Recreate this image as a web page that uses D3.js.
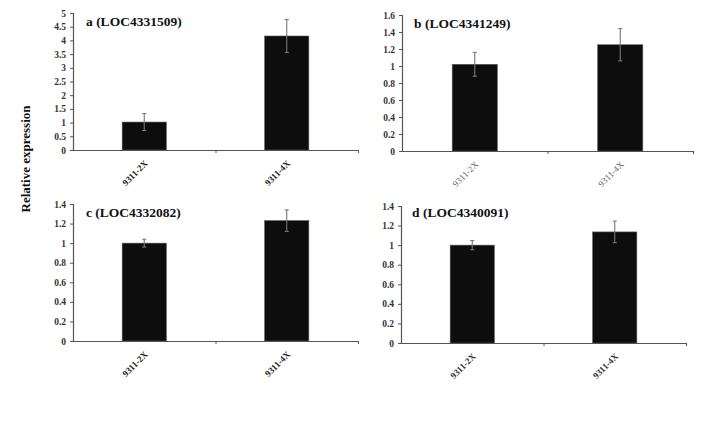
<!DOCTYPE html>
<html>
<head>
<meta charset="utf-8">
<script src="https://cdn.jsdelivr.net/npm/d3@7/dist/d3.min.js"></script>
<style>
  html, body { margin: 0; padding: 0; background: #fff; }
  svg { display: block; }
</style>
</head>
<body>
<svg id="chart" width="720" height="428"></svg>
<script>
// ---- Data ----
const categories = ["9311-2X", "9311-4X"];
const panelTitles = ["a (LOC4331509)", "b (LOC4341249)", "c (LOC4332082)", "d (LOC4340091)"];
const valuesA = [1.02, 4.16];
const errorsA = [0.31, 0.60];
const valuesB = [1.02, 1.25];
const errorsB = [0.14, 0.19];
const valuesC = [1.00, 1.23];
const errorsC = [0.04, 0.11];
const valuesD = [1.00, 1.135];
const errorsD = [0.047, 0.11];
const yMaxes = [5, 1.6, 1.4, 1.4];
const yTickSteps = [0.5, 0.2, 0.2, 0.2];
const yLabel = "Relative expression";

// ---- Layout ----
const frames = [
  { x0: 73, x1: 358, yTop: 13, yBot: 150, bold: true, tickColor: "#222" },
  { x0: 402, x1: 693, yTop: 15, yBot: 151, bold: false, tickColor: "#666" },
  { x0: 73, x1: 358, yTop: 204, yBot: 341, bold: true, tickColor: "#222" },
  { x0: 401, x1: 686, yTop: 206, yBot: 343, bold: true, tickColor: "#333" }
];
const titlePos = [[86, 26], [414, 28], [86, 217], [412, 217]];
const allValues = [valuesA, valuesB, valuesC, valuesD];
const allErrors = [errorsA, errorsB, errorsC, errorsD];

const svg = d3.select("#chart");
const serif = "'Liberation Serif', 'DejaVu Serif', serif";

frames.forEach((f, i) => {
  const g = svg.append("g");
  const x = d3.scaleBand().domain(categories).range([f.x0, f.x1])
    .paddingInner(0.69).paddingOuter(0.345);
  const y = d3.scaleLinear().domain([0, yMaxes[i]]).range([f.yBot, f.yTop]);
  const ticks = d3.range(0, yMaxes[i] + 1e-9, yTickSteps[i]);

  // bars
  const vals = allValues[i], errs = allErrors[i];
  g.selectAll("rect.bar").data(categories).enter().append("rect")
    .attr("x", d => x(d))
    .attr("y", (d, k) => y(vals[k]))
    .attr("width", x.bandwidth())
    .attr("height", (d, k) => y(0) - y(vals[k]))
    .attr("fill", "#0d0d0d")
    .attr("stroke", "#555")
    .attr("stroke-width", 0.6);

  // error bars
  const eg = g.append("g").attr("stroke", "#777").attr("stroke-width", 1.1);
  categories.forEach((c, k) => {
    const cx = x(c) + x.bandwidth() / 2;
    eg.append("line").attr("x1", cx).attr("x2", cx)
      .attr("y1", y(vals[k] + errs[k])).attr("y2", y(vals[k] - errs[k]));
    eg.append("line").attr("x1", cx - 2).attr("x2", cx + 2)
      .attr("y1", y(vals[k] + errs[k])).attr("y2", y(vals[k] + errs[k]));
    eg.append("line").attr("x1", cx - 2).attr("x2", cx + 2)
      .attr("y1", y(vals[k] - errs[k])).attr("y2", y(vals[k] - errs[k]));
  });

  // y axis
  const yAxis = d3.axisLeft(y).tickValues(ticks).tickSize(3).tickPadding(4)
    .tickFormat(d => d3.format("~g")(+d.toFixed(2)));
  const ya = g.append("g").attr("transform", `translate(${f.x0},0)`).call(yAxis);
  ya.select(".domain").attr("stroke", "#555").attr("stroke-width", 1.2);
  ya.selectAll(".tick line").attr("stroke", "#555");
  ya.selectAll(".tick text").attr("font-family", serif).attr("font-size", 9.5)
    .attr("font-weight", "bold").attr("fill", "#333");

  // x axis (boundary ticks)
  const xb = d3.scaleLinear().domain([0, categories.length]).range([f.x0, f.x1]);
  const xAxis = d3.axisBottom(xb).tickValues([1, 2]).tickSize(3).tickSizeOuter(0).tickFormat("");
  const xa = g.append("g").attr("transform", `translate(0,${f.yBot})`).call(xAxis);
  xa.select(".domain").attr("stroke", "#555").attr("stroke-width", 1.2);
  xa.selectAll(".tick line").attr("stroke", "#555");

  // category labels rotated
  g.selectAll("text.cat").data(categories).enter().append("text")
    .attr("class", "cat")
    .attr("transform", d => `translate(${x(d) + x.bandwidth() / 2 + 4},${f.yBot + 14}) rotate(-45)`)
    .attr("text-anchor", "end")
    .attr("font-family", serif)
    .attr("font-size", 9)
    .attr("font-weight", f.bold ? "bold" : "normal")
    .attr("fill", f.tickColor)
    .text(d => d);

  // title
  g.append("text")
    .attr("x", titlePos[i][0]).attr("y", titlePos[i][1])
    .attr("font-family", serif).attr("font-size", 13.5).attr("font-weight", "bold")
    .attr("fill", "#111")
    .text(panelTitles[i]);
});

// shared y label
svg.append("text")
  .attr("transform", "translate(30,159) rotate(-90)")
  .attr("text-anchor", "middle")
  .attr("font-family", serif).attr("font-size", 13).attr("font-weight", "bold")
  .attr("fill", "#111")
  .text(yLabel);
</script>
</body>
</html>
